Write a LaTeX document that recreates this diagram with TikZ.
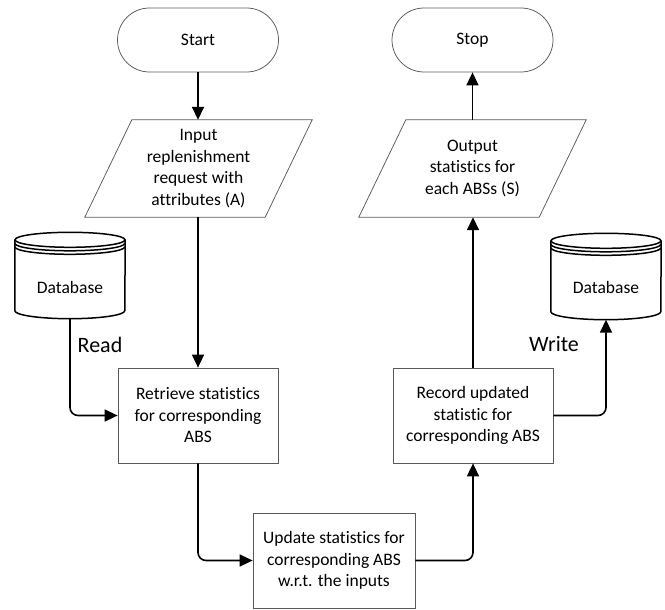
\documentclass[tikz,border=0pt]{standalone}
\usepackage{fontspec}
\setmainfont{Carlito}[Ligatures=NoCommon]
\usetikzlibrary{shapes.misc,arrows.meta,calc}

% slanted input/output outline around a plain rectangular node
\newcommand\slantoutline[1]{%
  \draw[outline] ($(#1.north west)+(23.5,0)$) -- ($(#1.north east)+(23.5,0)$)
    -- ($(#1.south east)+(-23.5,0)$) -- ($(#1.south west)+(-23.5,0)$) -- cycle;}

% data store cylinder with two extra rims under the lid
\newcommand\storeoutline[1]{%
  \draw[storeline] ($(#1.north west)+(0,-7.5)$) -- ($(#1.south west)+(0,8)$)
    arc[start angle=180,end angle=360,x radius=55,y radius=8]
    -- ($(#1.north east)+(0,-7.5)$);
  \draw[storeline] ($(#1.north)+(0,-7.5)$) ellipse[x radius=55,y radius=7.5];
  \draw[storeline] ($(#1.north west)+(0,-11)$)
    arc[start angle=180,end angle=360,x radius=55,y radius=7.5];
  \draw[storeline] ($(#1.north west)+(0,-14.5)$)
    arc[start angle=180,end angle=360,x radius=55,y radius=7.5];}

\begin{document}
\begin{tikzpicture}[x=1pt,y=1pt,
  body/.style={font=\fontsize{17.5}{21.5}\selectfont, align=center},
  outline/.style={draw=black!65, line width=0.75pt},
  terminal/.style={body, outline, rounded rectangle, minimum width=161pt, minimum height=64pt, inner sep=0pt},
  procbox/.style={body, outline, rectangle, minimum width=160pt, minimum height=95pt, inner sep=0pt},
  iobox/.style={body, rectangle, minimum width=180pt, minimum height=97pt, inner sep=0pt},
  storebox/.style={rectangle, minimum width=110pt, minimum height=86pt, inner sep=0pt},
  storeline/.style={draw=black, line width=1.5pt},
  flow/.style={draw=black, line width=1.6pt, rounded corners=8pt, -{Triangle[length=13pt,width=12pt]}},
  tag/.style={font=\fontsize{22}{26}\selectfont}]

\useasboundingbox (0,0) rectangle (665,-610);

% terminals
\node[terminal] (start) at (198,-40) {Start};
\node[terminal] (stop) at (472.5,-40) {Stop};

% input / output
\node[iobox] (inp) at (198.5,-168.5) {Input\\replenishment\\request with\\attributes (A)};
\slantoutline{inp}
\node[iobox] (out) at (472.5,-168.5) {Output\\statistics for\\each ABSs (S)};
\slantoutline{out}

% processing steps
\node[procbox] (retrieve) at (198,-415.5) {Retrieve statistics\\for corresponding\\ABS};
\node[procbox] (record) at (473,-415.5) {Record updated\\statistic for\\corresponding ABS};
\node[procbox, minimum width=162pt] (update) at (334,-560.5) {Update statistics for\\corresponding ABS\\w.r.t. the inputs};

% data stores
\node[storebox] (db1) at (70,-275.5) {};
\storeoutline{db1}
\node[body] (db1text) at (70,-287) {Database};
\node[storebox] (db2) at (606,-276.5) {};
\storeoutline{db2}
\node[body] (db2text) at (606,-287) {Database};

% flow
\draw[flow] (start.south) -- (start.south |- inp.north);
\draw[flow] (inp.south -| retrieve.north) -- (retrieve.north);
\draw[flow] (db1.south) |- (retrieve.west);
\draw[flow] (retrieve.south) |- (update.west);
\draw[flow] (update.east) -| (record.south);
\draw[flow] (record.north) -- (record.north |- out.south);
\draw[flow] (out.north -| stop.south) -- (stop.south);
\draw[flow] (record.east) -| (db2.south);

% connector labels
\node[tag] (readlbl) at (100,-345) {Read};
\node[tag] (writelbl) at (554,-344) {Write};
\end{tikzpicture}
\end{document}
